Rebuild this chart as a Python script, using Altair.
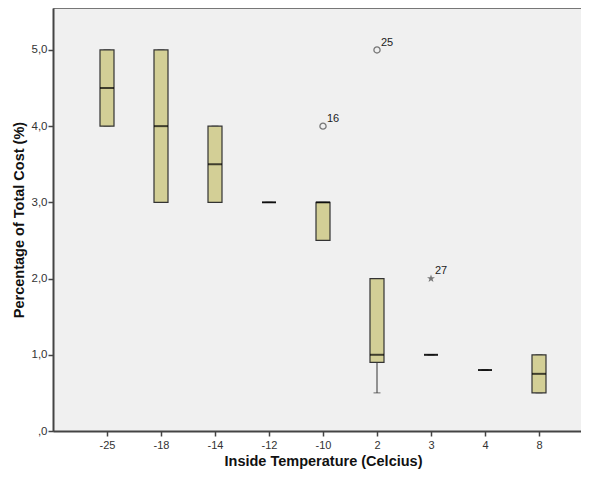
import altair as alt
import pandas as pd

temps = ["-25", "-18", "-14", "-12", "-10", "2", "3", "4", "8"]
q1 = [4.0, 3.0, 3.0, 3.0, 2.5, 0.9, 1.0, 0.8, 0.5]
med = [4.5, 4.0, 3.5, 3.0, 3.0, 1.0, 1.0, 0.8, 0.75]
q3 = [5.0, 5.0, 4.0, 3.0, 3.0, 2.0, 1.0, 0.8, 1.0]
wlo = [4.0, 3.0, 3.0, 3.0, 2.5, 0.5, 1.0, 0.8, 0.5]
whi = [5.0, 5.0, 4.0, 3.0, 3.0, 2.0, 1.0, 0.8, 1.0]

out_t = ["-10", "2"]
out_v = [4.0, 5.0]
out_l = ["16", "25"]

ext_t = ["3"]
ext_v = [2.0]
ext_l = ["27"]

yticks = [0, 1, 2, 3, 4, 5]

boxes = pd.DataFrame({"t": temps, "q1": q1, "med": med, "q3": q3, "wlo": wlo, "whi": whi})
outs = pd.DataFrame({"t": out_t, "v": out_v, "lab": out_l})
exts = pd.DataFrame({"t": ext_t, "v": ext_v, "lab": ext_l})

FONT = "Liberation Sans"

xenc = alt.X(
    "t:N",
    sort=temps,
    scale=alt.Scale(type="point", padding=1),
    axis=alt.Axis(
        title="Inside Temperature (Celcius)",
        labelAngle=0,
        labelFont=FONT,
        labelFontSize=11,
        labelColor="#333333",
        labelPadding=3,
        tickSize=5,
        tickColor="#444444",
        tickWidth=1.5,
        domainColor="#444444",
        domainWidth=2,
        titleFont=FONT,
        titleFontSize=14.5,
        titleFontWeight="bold",
        titleColor="#111111",
        titlePadding=4,
        grid=False,
    ),
)

yscale = alt.Scale(domain=[0, 5.55], nice=False, zero=True)
yaxis = alt.Axis(
    title="Percentage of Total Cost (%)",
    values=yticks,
    labelExpr="datum.value == 0 ? ',0' : replace(format(datum.value, '.1f'), '.', ',')",
    labelFont=FONT,
    labelFontSize=11.5,
    labelColor="#333333",
    labelPadding=1,
    tickSize=5,
    tickColor="#444444",
    tickWidth=1.5,
    domainColor="#444444",
    domainWidth=2,
    titleFont=FONT,
    titleFontSize=14.5,
    titleFontWeight="bold",
    titleColor="#111111",
    titlePadding=5,
    grid=False,
)

base = alt.Chart(boxes)

whisk_lo = base.mark_rule(color="#333333", strokeWidth=1).encode(
    x=xenc, y=alt.Y("wlo:Q", scale=yscale, axis=yaxis), y2="q1:Q"
)
whisk_hi = base.mark_rule(color="#333333", strokeWidth=1).encode(
    x=xenc, y=alt.Y("q3:Q", scale=yscale, axis=yaxis), y2="whi:Q"
)
cap_lo = base.mark_tick(color="#333333", size=7, thickness=1).encode(
    x=xenc, y=alt.Y("wlo:Q", scale=yscale, axis=yaxis)
)
cap_hi = base.mark_tick(color="#333333", size=7, thickness=1).encode(
    x=xenc, y=alt.Y("whi:Q", scale=yscale, axis=yaxis)
)
box = base.mark_bar(size=14, color="#d3cf96", stroke="#333333", strokeWidth=1.2).encode(
    x=xenc, y=alt.Y("q1:Q", scale=yscale, axis=yaxis), y2="q3:Q"
)
median = base.mark_tick(color="#000000", size=14, thickness=2).encode(
    x=xenc, y=alt.Y("med:Q", scale=yscale, axis=yaxis)
)

opts = alt.Chart(outs).mark_point(shape="circle", size=38, filled=False, color="#444444", strokeWidth=1.3).encode(
    x=xenc, y=alt.Y("v:Q", scale=yscale, axis=yaxis)
)
opt_lab = alt.Chart(outs).mark_text(align="left", baseline="bottom", dx=4, dy=-2, font=FONT, fontSize=11, color="#222222").encode(
    x=xenc, y=alt.Y("v:Q", scale=yscale, axis=yaxis), text="lab:N"
)

star = "M0,-1L0.235,-0.324L0.951,-0.309L0.38,0.124L0.588,0.809L0,0.4L-0.588,0.809L-0.38,0.124L-0.951,-0.309L-0.235,-0.324Z"
epts = alt.Chart(exts).mark_point(shape=star, size=70, filled=True, color="#444444").encode(
    x=xenc, y=alt.Y("v:Q", scale=yscale, axis=yaxis)
)
ept_lab = alt.Chart(exts).mark_text(align="left", baseline="bottom", dx=4, dy=-3, font=FONT, fontSize=11, color="#222222").encode(
    x=xenc, y=alt.Y("v:Q", scale=yscale, axis=yaxis), text="lab:N"
)

chart = alt.layer(
    whisk_lo, whisk_hi, cap_lo, cap_hi, box, median, opts, opt_lab, epts, ept_lab
).properties(
    width=540,
    height=423,
    autosize=alt.AutoSizeParams(type="none"),
    padding={"left": 45, "top": 0, "right": -12, "bottom": 38},
    background="#ffffff",
).configure_view(
    fill="#f0f0f0",
    stroke="#777777",
    strokeWidth=1,
)

chart.save("out.html", embed_options={"renderer": "svg", "actions": False})
